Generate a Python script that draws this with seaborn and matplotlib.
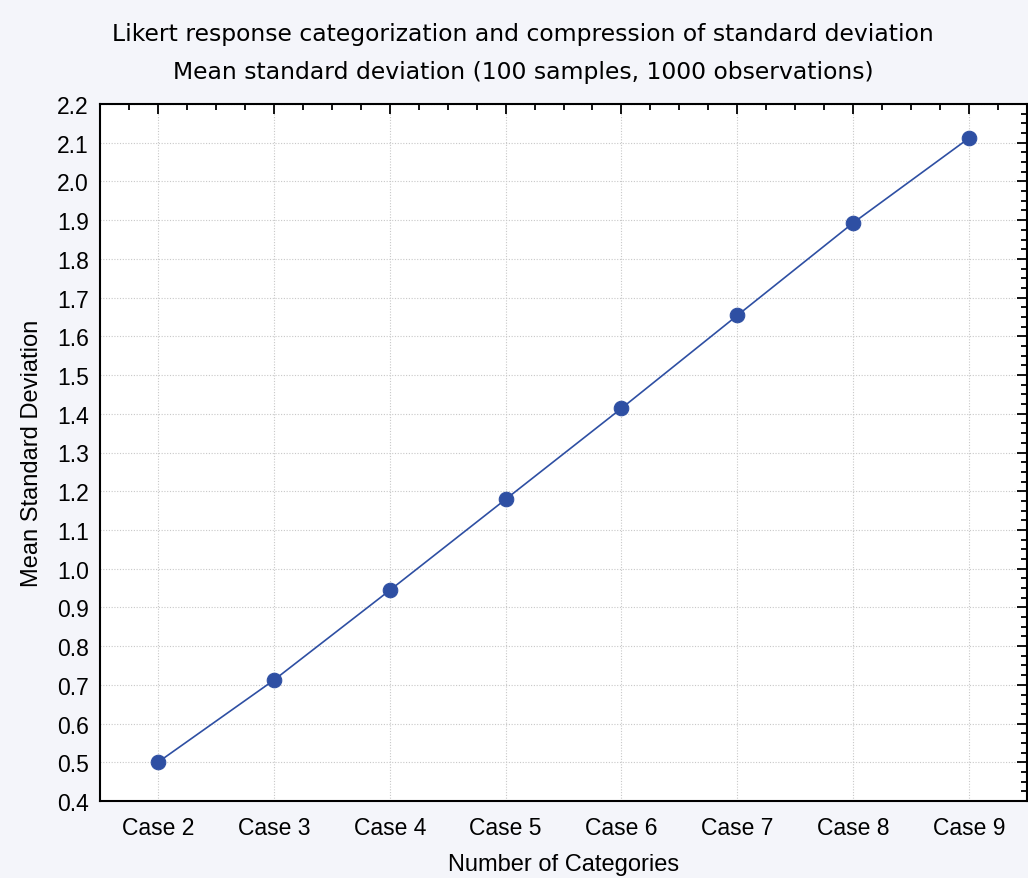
import matplotlib
matplotlib.use("Agg")
import matplotlib.pyplot as plt
from matplotlib.ticker import MultipleLocator, AutoMinorLocator
import seaborn as sns
import pandas as pd

sns.set_style("white")
plt.rcParams['font.family'] = ['Liberation Sans', 'DejaVu Sans']
plt.rcParams['text.color'] = 'black'
plt.rcParams['axes.labelcolor'] = 'black'

# data
categories = [2, 3, 4, 5, 6, 7, 8, 9]
case_labels = ["Case 2", "Case 3", "Case 4", "Case 5", "Case 6", "Case 7", "Case 8", "Case 9"]
mean_sd = [0.50, 0.712, 0.944, 1.179, 1.414, 1.654, 1.893, 2.112]

df = pd.DataFrame({"cat": categories, "sd": mean_sd})

bg = "#F4F5FA"
blue = "#2E4FA3"

fig = plt.figure(figsize=(10.28, 8.79), dpi=100, facecolor=bg)
ax = fig.add_axes([100 / 1028, 1 - 802 / 879, 927 / 1028, 697 / 879])
ax.set_facecolor("white")

sns.lineplot(data=df, x="cat", y="sd", ax=ax, color=blue, linewidth=1.2,
             marker="o", markersize=10.5, markeredgecolor=blue)

ax.set_xlim(1.5, 9.5)
ax.set_ylim(0.4, 2.2)
ax.set_xticks(categories)
ax.set_xticklabels(case_labels)
ax.yaxis.set_major_locator(MultipleLocator(0.1))
ax.yaxis.set_major_formatter(matplotlib.ticker.FormatStrFormatter("%.1f"))
ax.xaxis.set_minor_locator(AutoMinorLocator(4))
ax.yaxis.set_minor_locator(AutoMinorLocator(4))

ax.grid(True, which="major", color="#C8C8C8", linestyle=(0, (1, 1.5)), linewidth=0.8)
ax.tick_params(which="both", direction="in", top=True, right=True, colors="black",
               labelsize=16.5, width=1.3)
ax.tick_params(which="major", length=7, pad=8)
ax.tick_params(axis="x", which="major", pad=11)
ax.tick_params(which="minor", length=4)
for s in ax.spines.values():
    s.set_color("black")
    s.set_linewidth(1.5)

ax.set_xlabel("Number of Categories", fontsize=17, labelpad=10)
ax.set_ylabel("Mean Standard Deviation", fontsize=17, labelpad=10)

fig.text(0.509, 1 - 35 / 879, "Likert response categorization and compression of standard deviation",
         ha="center", va="center", fontsize=16.9, family="DejaVu Sans")
fig.text(0.509, 1 - 73 / 879, "Mean standard deviation (100 samples, 1000 observations)",
         ha="center", va="center", fontsize=16.9, family="DejaVu Sans")

fig.savefig("out.png", dpi=100, facecolor=bg)
